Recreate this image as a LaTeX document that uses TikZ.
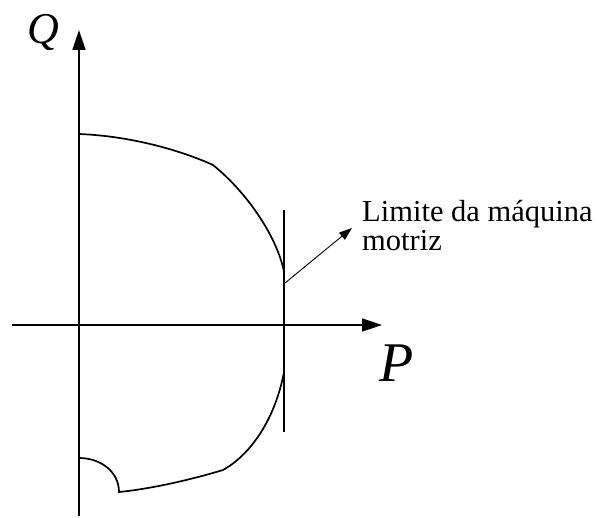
\documentclass[tikz,border=0pt]{standalone}
\usepackage{fontspec}
\setmainfont{Liberation Serif}
\usetikzlibrary{arrows.meta}
\begin{document}
\begin{tikzpicture}[x=1pt,y=-1pt,
  axis/.style={line width=1.6pt,-{Triangle[length=20pt,width=13pt]}},
  curve/.style={line width=1.7pt,line join=miter},
  limline/.style={line width=2.2pt},
  note/.style={line width=0.9pt,-{Triangle[length=13pt,width=9pt]}},
  lbl/.style={font=\fontsize{30.5}{29}\selectfont,align=left,inner sep=0pt}]
\useasboundingbox (0,0) rectangle (597,518);
% coordinates
\coordinate (ybot) at (79,516);
\coordinate (ytop) at (79,30);
\coordinate (xl) at (12,325);
\coordinate (xr) at (382,325);
\coordinate (lt) at (284,210);
\coordinate (lb) at (284,432);
\coordinate (ns) at (285,283);
\coordinate (ne) at (352,228);
% axes
\draw[axis] (ybot) -- (ytop);
\draw[axis] (xl) -- (xr);
\node (Q) at (43,33) {\fontsize{44}{44}\selectfont\itshape Q};
\node (P) at (397,363) {\fontsize{56}{56}\selectfont\itshape P};
% limit line
\draw[limline] (lt) -- (lb);
% upper curve
\draw[curve] (79,134) .. controls (130,136) and (180,150) .. (213,165)
  .. controls (250,195) and (278,240) .. (284,272);
% lower curve
\draw[curve] (284,372) .. controls (275,420) and (250,455) .. (223,470)
  .. controls (190,480) and (150,489) .. (119,492)
  .. controls (119,472) and (101,458) .. (79,458);
% annotation
\node[lbl,anchor=base west] (lim) at (362,251) {Limite da máquina\\motriz};
\draw[note] (ns) -- (ne);
\end{tikzpicture}
\end{document}
